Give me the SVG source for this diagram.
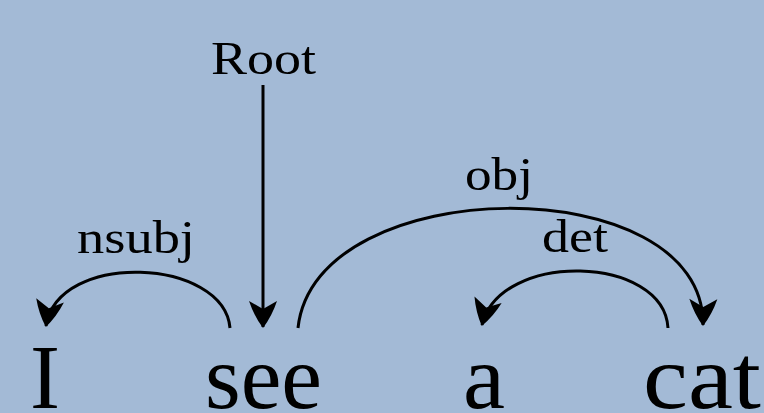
<svg xmlns="http://www.w3.org/2000/svg" width="764" height="413" viewBox="0 0 764 413">
  <defs>
    <style>
      .word { font-family: "Liberation Serif", "Times New Roman", serif; font-size: 92px; fill: #000; }
      .lbl { font-family: "Liberation Serif", "Times New Roman", serif; font-size: 46px; fill: #000; }
      .edge { fill: none; stroke: #000; stroke-width: 3; marker-end: url(#head); }
    </style>
    <!-- notched arrowhead with full sides, tip at the path end -->
    <marker id="head" refX="0" refY="0" markerWidth="1" markerHeight="1" markerUnits="userSpaceOnUse" orient="auto" overflow="visible">
      <path d="M1,0 Q-11,-9 -26,-14 L-18,0 L-26,14 Q-11,9 1,0 Z" fill="#000"/>
    </marker>
  </defs>

  <rect width="764" height="413" fill="#a3bad6"/>

  <!-- words of the sentence -->
  <g id="w-I"><text class="word" x="30" y="408" textLength="30" lengthAdjust="spacingAndGlyphs">I</text></g>
  <g id="w-see"><text class="word" x="205" y="408" textLength="117" lengthAdjust="spacingAndGlyphs">see</text></g>
  <g id="w-a"><text class="word" x="463" y="408" textLength="42" lengthAdjust="spacingAndGlyphs">a</text></g>
  <g id="w-cat"><text class="word" x="643" y="408" textLength="118" lengthAdjust="spacingAndGlyphs">cat</text></g>

  <!-- root marker -->
  <g id="root"><text class="lbl" x="211" y="74" textLength="105" lengthAdjust="spacingAndGlyphs">Root</text></g>

  <!-- dependency arcs with their labels -->
  <g id="connectors">
    <path class="edge" d="M263,85 L263,327"/>
    <path class="edge" d="M230,328 C224,258 58,250 46,326"/>
    <text class="lbl" x="77" y="253" textLength="118" lengthAdjust="spacingAndGlyphs">nsubj</text>
    <path class="edge" d="M298,328 C315,170 705,168 703,325"/>
    <text class="lbl" x="465" y="190" textLength="68" lengthAdjust="spacingAndGlyphs">obj</text>
    <path class="edge" d="M668,328 C664,255 500,250 482,325"/>
    <text class="lbl" x="542" y="252" textLength="66" lengthAdjust="spacingAndGlyphs">det</text>
  </g>
</svg>
